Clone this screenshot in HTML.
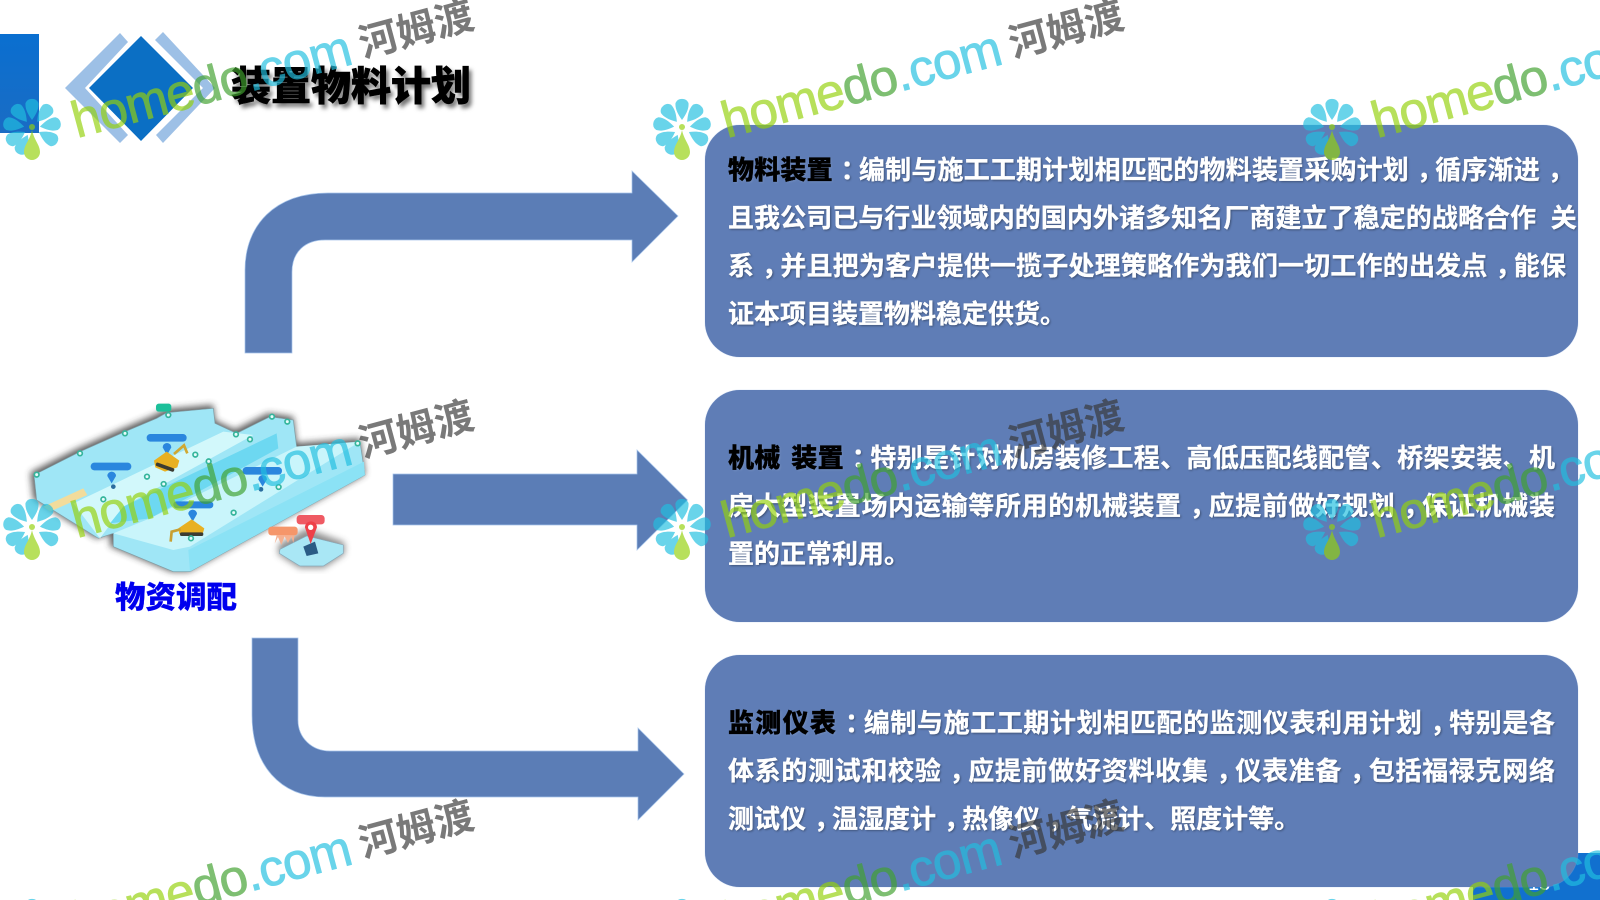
<!DOCTYPE html>
<html lang="zh-CN">
<head>
<meta charset="utf-8">
<title>装置物料计划</title>
<style>
html,body{margin:0;padding:0;background:#fff;width:1600px;height:900px;overflow:hidden}
#s{position:relative;width:1600px;height:900px;overflow:hidden;background:#fff;font-family:"Liberation Sans","Noto Sans CJK SC",sans-serif}
#s>svg{position:absolute;left:0;top:0}
.box{position:absolute;left:704.5px;width:873.5px;height:232px;border-radius:35px;background:#5f7db6;box-shadow:0 0 1px #a9c0e6}
.l{position:absolute;left:728px;font-size:26px;line-height:48px;height:48px;font-weight:700;color:#fff;white-space:nowrap;-webkit-text-stroke:.35px #fff;text-shadow:1px 1px 2px rgba(0,0,0,.4)}
.j{width:827px;white-space:normal;text-align:justify;text-align-last:justify}
.l b{color:#000;-webkit-text-stroke:.35px #000;text-shadow:1px 1px 2px rgba(255,255,255,.12)}
.l i{font-style:normal;position:relative;left:.3em}
.title{position:absolute;left:231px;top:62px;font-size:40px;line-height:50px;font-weight:900;color:#000;white-space:nowrap;-webkit-text-stroke:.6px #000;text-shadow:3px 4px 4px rgba(0,0,0,.55)}
.cap{position:absolute;left:115px;top:576px;font-size:30.5px;line-height:44px;font-weight:900;color:#0000ee;white-space:nowrap;-webkit-text-stroke:.3px #0000ee}
.pn{position:absolute;left:1528px;top:872px;font-size:20px;line-height:24px;color:#fff}
#wm{opacity:.67}
</style>
</head>
<body>
<div id="s">
<svg width="1600" height="900" viewBox="0 0 1600 900">
<defs>
<linearGradient id="bar" x1="0" y1="0" x2="0" y2="1"><stop offset="0" stop-color="#0a6fd0"/><stop offset="1" stop-color="#1a6cc4"/></linearGradient>
<filter id="bl" x="-10%" y="-10%" width="120%" height="120%"><feGaussianBlur stdDeviation="1"/></filter>
<filter id="sh" x="-20%" y="-20%" width="140%" height="140%"><feGaussianBlur stdDeviation="10"/></filter>
</defs>
<rect x="0" y="34" width="39" height="99" fill="url(#bar)"/>
<rect x="1473" y="853" width="127" height="47" fill="#1170cf"/>
<polygon points="120,33 128,42 85,88 128,135 120,143 65,88" fill="#9dc0e6"/>
<polygon points="163,32 155,40 203,88 156,135 163,143 215,88" fill="#9dc0e6"/>
<polygon points="141,36 193,88 141,141 89,88" fill="#0b6fc4"/>
<g fill="#5b7db6" stroke="#a6c4ea" stroke-width=".7">
<path d="M245,353 L245,270 C245,225 275,193 328,193 L632,193 L632,171 L678,216 L632,262 L632,240 L325,240 C305,240 292,252 292,272 L292,353 Z"/>
<polygon points="393,474 637,474 637,450 687.5,500 637,550 637,525 393,525"/>
<path d="M252,638 L298,638 L298,720 C298,738 312,751 330,751 L638,751 L638,728 L684,774 L638,820 L638,797 L325,797 C280,797 252,765 252,715 Z"/>
</g>
<g transform="translate(10,390) scale(.3333)">
<path d="M72,255 L210,185 L345,125 L440,85 L470,68 L610,55 L615,100 L680,130 L780,80 L850,90 L860,170 L1050,155 L1065,255 L540,545 L490,545 L310,470 L310,430 L265,445 L80,330 Z" fill="#333" stroke="#333" stroke-width="10" opacity=".8" filter="url(#sh)" transform="translate(-5,-5)"/>
<path d="M810,465 L890,420 L1000,460 L1000,490 L940,530 L870,530 L808,490 Z" fill="#444" stroke="#444" stroke-width="8" opacity=".6" filter="url(#sh)"/>
<g filter="url(#bl)">
<path d="M72,255 L210,185 L345,125 L440,85 L470,68 L610,55 L615,100 L680,130 L780,80 L850,90 L860,170 L1050,155 L1065,255 L540,545 L490,545 L310,470 L310,430 L265,445 L80,330 Z" fill="#9fe6f6" stroke="#7f9ea6" stroke-width="2"/>
<path d="M190,340 L640,125 L730,135 L340,350 L270,445 Z" fill="#d2f8fb"/>
<path d="M340,350 L800,130 L805,175 L420,385 L300,400 Z" fill="#6dd8f1"/>
<path d="M310,430 L420,385 L860,170 L1050,155 L540,470 L490,480 Z" fill="#c9f5fb"/>
<path d="M535,480 L1062,215 L1065,255 L540,545 Z" fill="#8be2f5"/>
<path d="M100,350 L220,295 L232,315 L120,365 Z" fill="#f2dc9c"/>
<path d="M810,478 L890,438 L1000,465 L1000,490 L940,528 L870,528 L808,490 Z" fill="#a9e7f5" stroke="#8ab" stroke-width="2"/>
<path d="M880,470 L915,455 L925,490 L890,498 Z" fill="#2b5c85"/>
<g fill="#2a86de">
<rect x="410" y="132" width="120" height="23" rx="11"/>
<rect x="242" y="218" width="122" height="23" rx="11"/>
<rect x="698" y="231" width="118" height="23" rx="11"/>
<rect x="490" y="334" width="120" height="21" rx="10"/>
</g>
<rect x="438" y="41" width="46" height="24" rx="8" fill="#1fc09a"/>
<rect x="860" y="375" width="84" height="28" rx="10" fill="#ef5a64"/>
<rect x="775" y="410" width="88" height="26" rx="9" fill="#f5966a"/>
<path d="M800,436 l-6,25 l10,-20 l10,24 l10,-26 l10,20 l10,-20 l6,20 l4,-23 Z" fill="#f5b090"/>
<path d="M885,412 a18,18 0 1,1 36,0 L902,462 Z" fill="#ee3f4a"/>
<circle cx="902" cy="412" r="8" fill="#fff"/>
<g fill="#2a86de">
<path d="M458,172 a13,13 0 1,1 26,0 L471,195 Z"/>
<path d="M292,258 a13,13 0 1,1 26,0 L305,280 Z"/>
<path d="M745,268 a13,13 0 1,1 26,0 L758,290 Z"/>
<path d="M535,372 a13,13 0 1,1 26,0 L548,395 Z"/>
</g>
<circle cx="310" cy="290" r="7" fill="#2a6c9e"/><circle cx="753" cy="298" r="7" fill="#2a6c9e"/>
<g fill="#e8b020">
<path d="M432,212 L470,185 L508,212 L502,232 L465,245 L436,232 Z"/>
<path d="M505,415 L545,388 L583,415 L578,432 L540,440 L508,432 Z"/>
</g>
<path d="M492,192 L522,166 L532,190" stroke="#d0a830" stroke-width="8" fill="none"/>
<path d="M512,418 L485,425 L482,455" stroke="#c8a030" stroke-width="8" fill="none"/>
<g fill="#3a3a30">
<rect x="436" y="226" width="58" height="11" rx="5" transform="rotate(20 465 232)"/>
<rect x="510" y="427" width="70" height="11" rx="5"/>
</g>
<g fill="#e8fbfb" stroke="#35b59c" stroke-width="5">
<circle cx="80" cy="254" r="7"/><circle cx="210" cy="190" r="7"/><circle cx="345" cy="130" r="7"/><circle cx="475" cy="75" r="7"/>
<circle cx="678" cy="133" r="7"/><circle cx="720" cy="148" r="7"/><circle cx="786" cy="80" r="7"/><circle cx="832" cy="95" r="7"/><circle cx="1043" cy="160" r="7"/>
<circle cx="556" cy="194" r="7"/><circle cx="596" cy="214" r="7"/><circle cx="411" cy="260" r="7"/><circle cx="461" cy="282" r="7"/>
<circle cx="280" cy="328" r="7"/><circle cx="806" cy="291" r="7"/><circle cx="671" cy="368" r="7"/><circle cx="543" cy="445" r="7"/>
</g>
</g>
</g>
</svg>

<div class="title">装置物料计划</div>
<div class="cap">物资调配</div>
<div class="pn">13</div>

<div class="box" style="top:125px"></div>
<div class="box" style="top:390px"></div>
<div class="box" style="top:655px"></div>

<div class="l j" style="top:146px;width:838px"><b>物料装置</b><i>：</i>编制与施工工期计划相匹配的物料装置采购计划<i>，</i>循序渐进<i>，</i></div>
<div class="l" style="top:194px;letter-spacing:.07px">且我公司已与行业领域内的国内外诸多知名厂商建立了稳定的战略合作&nbsp;&nbsp;关</div>
<div class="l j" style="top:242px;width:838px">系<i>，</i>并且把为客户提供一揽子处理策略作为我们一切工作的出发点<i>，</i>能保</div>
<div class="l" style="top:290px">证本项目装置物料稳定供货。</div>

<div class="l j" style="top:434px"><b style="word-spacing:3px">机械 装置</b><i>：</i>特别是针对机房装修工程、高低压配线配管、桥架安装、机</div>
<div class="l j" style="top:482px">房大型装置场内运输等所用的机械装置<i>，</i>应提前做好规划<i>，</i>保证机械装</div>
<div class="l" style="top:530px">置的正常利用。</div>

<div class="l j" style="top:699px"><b style="letter-spacing:.7px">监测仪表</b><i>：</i>编制与施工工期计划相匹配的监测仪表利用计划<i>，</i>特别是各</div>
<div class="l j" style="top:747px">体系的测试和校验<i>，</i>应提前做好资料收集<i>，</i>仪表准备<i>，</i>包括福禄克网络</div>
<div class="l" style="top:795px">测试仪<i>，</i>温湿度计<i>，</i>热像仪<i>，</i>气流计、照度计等。</div>

<svg id="wm" width="1600" height="900" viewBox="0 0 1600 900">
<defs>
<path id="pt" d="M0,-8 C5,-15 7,-20 6.5,-25 A7,6.5 0 0 0 -6.5,-25 C-7,-20 -5,-15 0,-8 Z"/>
<g id="fl">
<g fill="#21bfe0">
<use href="#pt"/>
<use href="#pt" transform="rotate(40)"/>
<use href="#pt" transform="rotate(80)"/>
<use href="#pt" transform="rotate(120)"/>
<use href="#pt" transform="rotate(-40)"/>
<use href="#pt" transform="rotate(-80)"/>
<use href="#pt" transform="rotate(-120)"/>
<use href="#pt" transform="rotate(-155) translate(1,0)"/>
</g>
<path d="M0,2 C2,12 8,17 8,24 A8,8 0 0 1 -8,24 C-8,17 -2,12 0,2 Z" fill="#94d10b"/>
<circle cx="0" cy="-1" r="3" fill="#94d10b"/>
</g>
</defs>
<g transform="translate(0,0)"><use href="#fl" x="32" y="128"/><text transform="translate(77,138) rotate(-15)" font-family="Liberation Sans,sans-serif" font-size="51" letter-spacing="-.8" stroke-width=".9"><tspan fill="#94d10b" stroke="#94d10b">home</tspan><tspan fill="#40a12e" stroke="#40a12e">do</tspan><tspan fill="#21bfe0" stroke="#21bfe0">.com</tspan></text><text transform="translate(416,29) rotate(-15)" font-family="Liberation Sans,Noto Sans CJK SC,sans-serif" font-size="39" font-weight="700" fill="#383838" text-anchor="middle" dy="14">河姆渡</text></g>
<g transform="translate(650,0)"><use href="#fl" x="32" y="128"/><text transform="translate(77,138) rotate(-15)" font-family="Liberation Sans,sans-serif" font-size="51" letter-spacing="-.8" stroke-width=".9"><tspan fill="#94d10b" stroke="#94d10b">home</tspan><tspan fill="#40a12e" stroke="#40a12e">do</tspan><tspan fill="#21bfe0" stroke="#21bfe0">.com</tspan></text><text transform="translate(416,29) rotate(-15)" font-family="Liberation Sans,Noto Sans CJK SC,sans-serif" font-size="39" font-weight="700" fill="#383838" text-anchor="middle" dy="14">河姆渡</text></g>
<g transform="translate(1300,0)"><use href="#fl" x="32" y="128"/><text transform="translate(77,138) rotate(-15)" font-family="Liberation Sans,sans-serif" font-size="51" letter-spacing="-.8" stroke-width=".9"><tspan fill="#94d10b" stroke="#94d10b">home</tspan><tspan fill="#40a12e" stroke="#40a12e">do</tspan><tspan fill="#21bfe0" stroke="#21bfe0">.com</tspan></text></g>
<g transform="translate(0,400)"><use href="#fl" x="32" y="128"/><text transform="translate(77,138) rotate(-15)" font-family="Liberation Sans,sans-serif" font-size="51" letter-spacing="-.8" stroke-width=".9"><tspan fill="#94d10b" stroke="#94d10b">home</tspan><tspan fill="#40a12e" stroke="#40a12e">do</tspan><tspan fill="#21bfe0" stroke="#21bfe0">.com</tspan></text><text transform="translate(416,29) rotate(-15)" font-family="Liberation Sans,Noto Sans CJK SC,sans-serif" font-size="39" font-weight="700" fill="#383838" text-anchor="middle" dy="14">河姆渡</text></g>
<g transform="translate(650,400)"><use href="#fl" x="32" y="128"/><text transform="translate(77,138) rotate(-15)" font-family="Liberation Sans,sans-serif" font-size="51" letter-spacing="-.8" stroke-width=".9"><tspan fill="#94d10b" stroke="#94d10b">home</tspan><tspan fill="#40a12e" stroke="#40a12e">do</tspan><tspan fill="#21bfe0" stroke="#21bfe0">.com</tspan></text><text transform="translate(416,29) rotate(-15)" font-family="Liberation Sans,Noto Sans CJK SC,sans-serif" font-size="39" font-weight="700" fill="#383838" text-anchor="middle" dy="14">河姆渡</text></g>
<g transform="translate(1300,400)"><use href="#fl" x="32" y="128"/><text transform="translate(77,138) rotate(-15)" font-family="Liberation Sans,sans-serif" font-size="51" letter-spacing="-.8" stroke-width=".9"><tspan fill="#94d10b" stroke="#94d10b">home</tspan><tspan fill="#40a12e" stroke="#40a12e">do</tspan><tspan fill="#21bfe0" stroke="#21bfe0">.com</tspan></text></g>
<g transform="translate(0,800)"><use href="#fl" x="32" y="128"/><text transform="translate(77,138) rotate(-15)" font-family="Liberation Sans,sans-serif" font-size="51" letter-spacing="-.8" stroke-width=".9"><tspan fill="#94d10b" stroke="#94d10b">home</tspan><tspan fill="#40a12e" stroke="#40a12e">do</tspan><tspan fill="#21bfe0" stroke="#21bfe0">.com</tspan></text><text transform="translate(416,29) rotate(-15)" font-family="Liberation Sans,Noto Sans CJK SC,sans-serif" font-size="39" font-weight="700" fill="#383838" text-anchor="middle" dy="14">河姆渡</text></g>
<g transform="translate(650,800)"><use href="#fl" x="32" y="128"/><text transform="translate(77,138) rotate(-15)" font-family="Liberation Sans,sans-serif" font-size="51" letter-spacing="-.8" stroke-width=".9"><tspan fill="#94d10b" stroke="#94d10b">home</tspan><tspan fill="#40a12e" stroke="#40a12e">do</tspan><tspan fill="#21bfe0" stroke="#21bfe0">.com</tspan></text><text transform="translate(416,29) rotate(-15)" font-family="Liberation Sans,Noto Sans CJK SC,sans-serif" font-size="39" font-weight="700" fill="#383838" text-anchor="middle" dy="14">河姆渡</text></g>
<g transform="translate(1300,800)"><use href="#fl" x="32" y="128"/><text transform="translate(77,138) rotate(-15)" font-family="Liberation Sans,sans-serif" font-size="51" letter-spacing="-.8" stroke-width=".9"><tspan fill="#94d10b" stroke="#94d10b">home</tspan><tspan fill="#40a12e" stroke="#40a12e">do</tspan><tspan fill="#21bfe0" stroke="#21bfe0">.com</tspan></text></g>
</svg>
</div>
</body>
</html>
